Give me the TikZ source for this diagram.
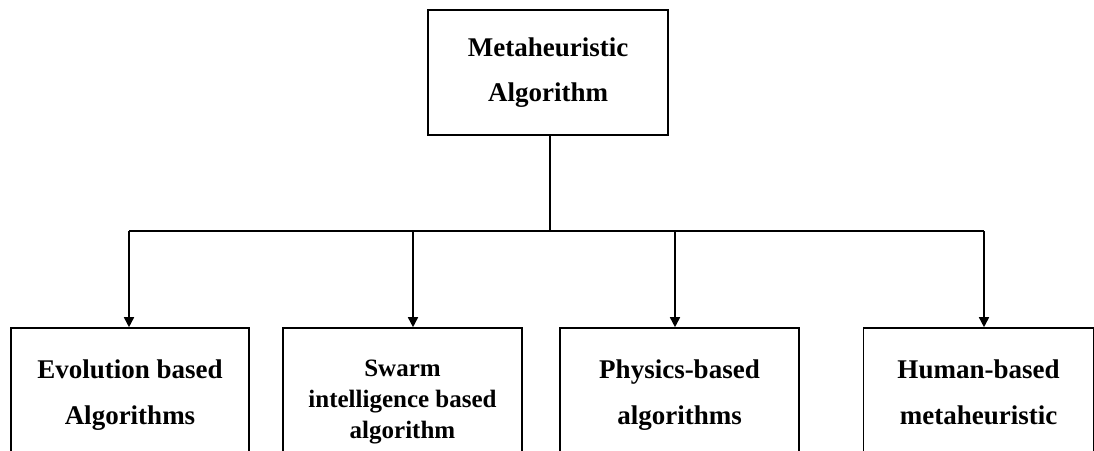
\documentclass[tikz,border=0pt]{standalone}
\usepackage{fontspec}
\setmainfont{Liberation Serif}
\usetikzlibrary{arrows.meta}

\begin{document}
\begin{tikzpicture}[x=0.75pt,y=-0.75pt,
	box/.style={draw,line width=1.2pt,align=center,inner sep=0pt,
		font=\bfseries\fontsize{20.25}{34.5}\selectfont},
	link/.style={line width=1.2pt},
	arr/.style={line width=1.2pt,-{Triangle[length=7.5pt,width=7.5pt]}}]
	 %\draw[help lines] (0,0) grid (1094,450);
	 \clip (0,0) rectangle (1094,450);

	 \node[box,minimum width=180pt,minimum height=93.75pt,
	 	font=\bfseries\fontsize{20.25}{33.75}\selectfont] (meta) at (548,72.5) {Metaheuristic\\Algorithm};

	 \node[box,minimum width=178.5pt,minimum height=100.5pt] (evo) at (130,395) {Evolution based\\Algorithms};
	 \node[box,minimum width=179.25pt,minimum height=111pt,
	 	font=\bfseries\fontsize{18.75}{23.25}\selectfont] (swarm) at (402.5,402) {Swarm\\intelligence based\\algorithm};
	 \node[box,minimum width=179.25pt,minimum height=100.5pt] (phys) at (679.5,395) {Physics-based\\algorithms};
	 \node[box,minimum width=172.5pt,minimum height=96pt] (human) at (978.5,392) {Human-based\\metaheuristic};

	 \coordinate (j) at (550,231);
	 \coordinate (ja) at (129,231);
	 \coordinate (jb) at (413,231);
	 \coordinate (jc) at (675,231);
	 \coordinate (jd) at (984,231);

	 \draw[link] (meta.south -| j) -- (j);
	 \draw[link] (ja) -- (jd);
	 \draw[arr] (ja) -- (ja |- evo.north);
	 \draw[arr] (jb) -- (jb |- swarm.north);
	 \draw[arr] (jc) -- (jc |- phys.north);
	 \draw[arr] (jd) -- (jd |- human.north);
\end{tikzpicture}
\end{document}
